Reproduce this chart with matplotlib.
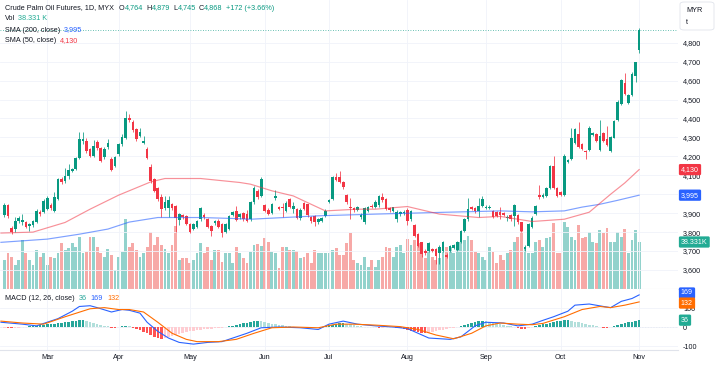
import numpy as np
import matplotlib
matplotlib.use('Agg')
import matplotlib.pyplot as plt
import matplotlib.transforms as mtransforms
from matplotlib.patches import FancyBboxPatch

plt.rcParams['font.family'] = ['Liberation Sans', 'DejaVu Sans']

# --------------------------------- #
# values, one entry per daily bar (mid Feb .. 1 Nov)

opens = [3890, 3942, 3821, 3814, 3858, 3855, 3854, 3830, 3835, 3854,
         3905, 3907, 3921, 3942, 3911, 3974, 4079, 4070, 4095, 4125,
         4133, 4190, 4280, 4280, 4237, 4200, 4275, 4242, 4195, 4250,
         4185, 4150, 4210, 4263, 4298, 4405, 4381, 4342, 4307, 4272,
         4240, 4146, 4079, 4032, 3984, 3926, 3926, 3947, 3938, 3865,
         3890, 3886, 3842, 3816, 3825, 3868, 3890, 3868, 3833, 3850,
         3860, 3842, 3800, 3816, 3890, 3912, 3880, 3900, 3895, 3868,
         3958, 4018, 3991, 3942, 3917, 3900, 3980, 3935, 3932, 3912,
         3974, 3920, 3921, 3872, 3956, 3947, 3880, 3886, 3855, 3860,
         3886, 3960, 3977, 4093, 4090, 4063, 3995, 3935, 3925, 3915,
         3880, 3854, 3910, 3940, 3935, 3942, 3985, 3974, 3925, 3910,
         3868, 3895, 3900, 3917, 3868, 3837, 3789, 3746, 3700, 3702,
         3710, 3711, 3690, 3702, 3680, 3700, 3715, 3705, 3746, 3807,
         3868, 3930, 3925, 3910, 3940, 3925, 3925, 3910, 3905, 3907,
         3900, 3875, 3890, 3886, 3890, 3851, 3712, 3728, 3825, 3895,
         3995, 3985, 3991, 4035, 4149, 4035, 4010, 3995, 4170, 4184,
         4272, 4316, 4263, 4228, 4233, 4315, 4320, 4233, 4325, 4290,
         4230, 4298, 4391, 4474, 4588, 4483, 4526, 4623, 4764]
highs = [3955, 3950, 3830, 3880, 3885, 3895, 3860, 3850, 3865, 3920,
         3915, 3975, 3990, 3955, 4010, 4085, 4090, 4140, 4160, 4140,
         4195, 4330, 4330, 4295, 4245, 4285, 4285, 4250, 4250, 4290,
         4195, 4200, 4270, 4320, 4438, 4421, 4390, 4350, 4350, 4310,
         4250, 4160, 4085, 4040, 4000, 3990, 3990, 3955, 3945, 3900,
         3895, 3890, 3850, 3850, 3865, 3935, 3900, 3875, 3840, 3865,
         3870, 3850, 3850, 3890, 3910, 3940, 3900, 3905, 3915, 3965,
         4045, 4025, 4090, 3950, 3925, 3955, 4020, 3940, 3955, 3962,
         3980, 3960, 3925, 3925, 3960, 3950, 3885, 3890, 3875, 3880,
         3920, 3975, 4095, 4110, 4125, 4068, 4000, 3980, 3930, 3940,
         3900, 3930, 3940, 3950, 3970, 3995, 4009, 3980, 3930, 3935,
         3915, 3910, 3915, 3925, 3918, 3845, 3795, 3750, 3710, 3750,
         3715, 3715, 3730, 3755, 3690, 3730, 3735, 3755, 3812, 3875,
         3980, 3940, 3930, 3980, 3990, 3945, 3945, 3915, 3910, 3935,
         3905, 3890, 3895, 3950, 3895, 3855, 3730, 3850, 3885, 3945,
         4050, 4005, 4040, 4155, 4200, 4040, 4015, 4210, 4185, 4352,
         4350, 4380, 4270, 4232, 4360, 4330, 4325, 4390, 4330, 4360,
         4305, 4390, 4500, 4610, 4640, 4530, 4645, 4700, 4879]
lows = [3880, 3875, 3790, 3800, 3850, 3835, 3820, 3808, 3825, 3850,
        3885, 3900, 3915, 3918, 3905, 3970, 4055, 4060, 4080, 4118,
        4128, 4185, 4265, 4220, 4195, 4195, 4235, 4170, 4185, 4240,
        4125, 4145, 4200, 4255, 4290, 4380, 4330, 4280, 4300, 4265,
        4185, 4060, 4010, 3965, 3879, 3915, 3880, 3915, 3800, 3840,
        3870, 3835, 3795, 3810, 3820, 3860, 3870, 3820, 3780, 3840,
        3820, 3775, 3795, 3810, 3885, 3860, 3870, 3860, 3855, 3860,
        3950, 3975, 3985, 3905, 3890, 3895, 3970, 3915, 3880, 3905,
        3925, 3900, 3870, 3865, 3915, 3880, 3850, 3830, 3845, 3855,
        3880, 3955, 3970, 4070, 4060, 4030, 3950, 3870, 3905, 3910,
        3870, 3845, 3905, 3925, 3925, 3935, 3960, 3915, 3905, 3905,
        3855, 3885, 3890, 3835, 3860, 3775, 3720, 3670, 3680, 3695,
        3695, 3630, 3630, 3695, 3665, 3695, 3710, 3700, 3740, 3800,
        3860, 3915, 3900, 3880, 3935, 3920, 3920, 3875, 3880, 3870,
        3885, 3860, 3860, 3830, 3845, 3800, 3700, 3720, 3820, 3890,
        3975, 3980, 3985, 4030, 4030, 3985, 3990, 3990, 4165, 4180,
        4265, 4245, 4235, 4185, 4228, 4310, 4275, 4228, 4275, 4255,
        4225, 4295, 4385, 4470, 4525, 4475, 4520, 4590, 4745]
closes = [3942, 3884, 3800, 3856, 3874, 3862, 3828, 3842, 3856, 3912,
          3895, 3965, 3979, 3926, 3984, 4079, 4063, 4096, 4128, 4132,
          4190, 4290, 4290, 4228, 4200, 4254, 4242, 4175, 4240, 4268,
          4130, 4195, 4263, 4300, 4404, 4390, 4338, 4290, 4328, 4280,
          4193, 4070, 4017, 3974, 3921, 3958, 3968, 3926, 3877, 3895,
          3880, 3842, 3800, 3842, 3860, 3925, 3880, 3825, 3807, 3860,
          3825, 3795, 3842, 3886, 3905, 3865, 3895, 3868, 3860, 3958,
          4032, 3984, 4079, 3912, 3895, 3947, 3990, 3920, 3928, 3956,
          3930, 3940, 3877, 3917, 3921, 3890, 3860, 3851, 3870, 3875,
          3912, 3968, 4090, 4075, 4065, 4037, 3958, 3928, 3915, 3930,
          3890, 3925, 3930, 3930, 3960, 3990, 3970, 3921, 3915, 3930,
          3907, 3905, 3908, 3860, 3912, 3780, 3728, 3684, 3690, 3742,
          3700, 3675, 3720, 3746, 3670, 3725, 3730, 3750, 3807, 3868,
          3921, 3920, 3910, 3940, 3974, 3935, 3935, 3880, 3885, 3890,
          3890, 3880, 3870, 3942, 3851, 3807, 3722, 3842, 3877, 3938,
          3985, 3995, 4035, 4149, 4035, 3991, 3995, 4202, 4180, 4298,
          4342, 4251, 4240, 4222, 4351, 4325, 4282, 4307, 4282, 4260,
          4300, 4386, 4486, 4602, 4531, 4526, 4637, 4696, 4868]
volumeK = [23.7, 29.1, 26.4, 19.6, 23.7, 39.8, 29.1, 23.7, 19.6, 31.8,
           26.4, 29.1, 19.6, 26.4, 25.0, 29.1, 37.2, 31.8, 33.2, 37.2,
           34.6, 42.4, 29.1, 30.5, 42.4, 42.4, 34.6, 29.1, 26.4, 32.4,
           27.6, 15.5, 26.4, 30.5, 57.3, 34.6, 37.2, 31.8, 26.4, 29.1,
           34.6, 46.8, 35.9, 42.4, 35.9, 32.4, 29.6, 35.9, 51.6, 23.7,
           25.0, 25.0, 21.0, 23.7, 29.1, 37.2, 29.1, 34.6, 23.7, 31.8,
           31.8, 22.3, 29.1, 29.1, 21.0, 34.6, 29.1, 25.0, 21.0, 30.5,
           35.9, 36.8, 35.1, 41.3, 38.6, 30.5, 29.1, 17.1, 34.6, 34.6,
           31.8, 31.8, 31.3, 25.0, 26.4, 29.1, 21.0, 31.8, 29.6, 29.6,
           29.6, 29.1, 31.8, 33.2, 27.7, 27.7, 37.3, 45.4, 23.7, 21.5,
           19.6, 26.4, 18.3, 23.7, 18.3, 23.7, 26.4, 34.6, 33.2, 26.4,
           34.6, 35.9, 29.1, 41.1, 35.9, 39.8, 37.2, 29.1, 25.0, 32.0,
           26.4, 23.7, 25.0, 30.5, 34.6, 34.6, 29.1, 33.2, 38.6, 39.8,
           43.2, 39.8, 30.5, 29.1, 26.4, 23.7, 34.6, 30.5, 21.0, 27.8,
           23.7, 29.1, 31.8, 38.6, 42.7, 49.5, 34.6, 29.1, 29.1, 38.6,
           40.0, 34.6, 41.3, 42.7, 53.6, 29.1, 29.1, 54.9, 50.9, 42.7,
           40.0, 52.2, 41.3, 42.7, 46.8, 38.6, 37.3, 48.1, 45.4, 49.5,
           38.6, 38.6, 46.8, 42.7, 48.7, 29.1, 40.0, 48.1, 38.331]
macdHist = [-3, -5, -6, -4, -3, -2, 2, 3, 4,
            6, 9, 12, 14, 16, 18, 20, 22, 24, 27, 30, 33, 36, 38,
            32, 26, 20, 14, 10, 6, 3,
            -3, -5, -2,
            3, 6, 4,
            -4, -10, -18, -26, -34, -42, -50, -58, -64,
            -60, -54, -48, -42, -36, -31, -27, -23, -20, -17, -14, -12, -10, -8, -6, -4, -3, -1,
            3, 7, 11, 15, 19, 23, 27, 31, 34,
            30, 26, 22, 18, 14, 11, 8, 5, 3,
            2, 1, -1, -2, -3, -2, -1, 1, 2, 4,
            8, 12, 16, 20, 22, 18, 14,
            9, 6, 3, 1, -1, -2, -2, -3, -3, -2, -1, -2, -4,
            -7, -11, -15, -19, -23, -27, -31, -34,
            -30, -26, -22, -18, -14, -10, -6, -3, -1,
            5, 10, 15, 20, 25, 30, 34,
            31, 27, 23, 19, 15, 11, 7, 4, 1,
            -4, -8, -12, -6,
            2, 6, 10, 14, 18, 22, 26, 29, 32, 35, 38,
            33, 28, 24, 20, 16, 12, 8, 4, 1, -3,
            -5, -2,
            4, 9, 14, 19, 24, 28, 32, 36]

# indicator lines, read at a handful of bars
sma200Bars = [-1, 12, 21, 29, 35, 43, 55, 64, 69, 88, 104, 122, 133, 139, 148, 157, 162, 167, 172, 178]
sma200Vals = [3746, 3763, 3789, 3816, 3853, 3877, 3877, 3872, 3868, 3886, 3895, 3904, 3909, 3912, 3907, 3912, 3932, 3947, 3968, 3995]
sma50Bars = [-1, 8, 17, 24, 32, 41, 45, 55, 66, 69, 75, 81, 86, 90, 99, 104, 113, 122, 133, 139, 148, 157, 164, 170, 174, 178]
sma50Vals = [3795, 3800, 3851, 3921, 3995, 4065, 4083, 4083, 4062, 4053, 4018, 3991, 3947, 3912, 3921, 3921, 3935, 3895, 3877, 3883, 3856, 3868, 3905, 4000, 4060, 4130]
macdBars = [-1, 5, 9, 11, 15, 19, 21, 24, 26, 30, 33, 35, 38, 40, 43, 46, 49, 53, 57, 61,
            65, 68, 72, 77, 83, 88, 91, 95, 99, 104, 109, 113, 116, 119, 125, 128, 132, 135, 140, 144,
            148, 151, 154, 158, 160, 164, 168, 170, 173, 176, 178]
macdVals = [25, 15, 6, 19, 44, 83, 108, 112, 102, 79, 92, 88, 73, 25, -23, -58, -81, -90, -81, -77,
            -52, -33, -4, 0, -4, -13, 15, 31, 15, 6, 0, -8, -33, -58, -65, -52, 6, 25, 21, 6,
            15, 35, 54, 83, 115, 121, 108, 102, 135, 150, 169]
signalBars = [-1, 5, 11, 17, 24, 28, 32, 35, 39, 43, 47, 51, 54, 60, 65, 70, 75, 81, 88, 93,
              98, 104, 111, 116, 121, 126, 131, 135, 139, 144, 148, 151, 157, 162, 167, 170, 174, 178]
signalVals = [31, 21, 15, 54, 96, 102, 92, 92, 79, 25, -33, -65, -77, -77, -65, -33, -4, 0, -4, 15,
              15, 10, 2, -13, -42, -62, -33, 6, 21, 15, 12, 19, 54, 92, 108, 102, 115, 132]

monthNames = ['Mar', 'Apr', 'May', 'Jun', 'Jul', 'Aug', 'Sep', 'Oct', 'Nov']
monthStartBar = [12, 32, 52, 73, 91, 113, 135, 156, 178]
priceTicks = [3600, 3700, 3800, 3900, 4000, 4100, 4200, 4300, 4400, 4500, 4600, 4700, 4800]
macdTicks = [-100, 0, 100]

# --------------------------------- #

DARK = '#131722'
UP, DOWN = '#089981', '#F23645'
VOL_UP, VOL_DOWN = '#92D2CC', '#F7A9A7'
BLUE, ORANGE = '#2962FF', '#FF6D00'
GRID = '#F0F3FA'
EDGE = '#E0E3EB'

W, H = 715, 366
fig = plt.figure(figsize=(W / 100, H / 100), dpi=100)
fig.patch.set_facecolor('white')


def fx(x):
    return x / W


def fy(y):
    return 1 - y / H


paneRight = 678
xlim = (-1.26, 188.9)

axVol = fig.add_axes([0, fy(289), paneRight / W, 289 / H])
axPrice = fig.add_axes([0, fy(289), paneRight / W, 289 / H])
axMacd = fig.add_axes([0, fy(350), paneRight / W, 61 / H])

o, h, l, c = (np.array(a, float) for a in (opens, highs, lows, closes))
idx = np.arange(len(c))
isUp = c >= o

# volume underneath
axVol.bar(idx, volumeK, width=0.8, color=np.where(isUp, VOL_UP, VOL_DOWN), linewidth=0)
axVol.set_xlim(*xlim)
axVol.set_ylim(0, 235.7)
axVol.axis('off')

# candles
axPrice.patch.set_visible(False)
candleCol = np.where(isUp, UP, DOWN)
axPrice.vlines(idx, l, h, colors=candleCol, linewidth=0.55, zorder=3)
axPrice.bar(idx, np.maximum(np.abs(c - o), 4), bottom=np.minimum(o, c), width=0.74,
            color=candleCol, linewidth=0, zorder=3)
axPrice.plot(sma200Bars, sma200Vals, color=BLUE, alpha=0.6, lw=0.85, zorder=4)
axPrice.plot(sma50Bars, sma50Vals, color=DOWN, alpha=0.55, lw=0.85, zorder=4)
axPrice.axhline(c[-1], color=UP, lw=0.6, ls=(0, (1, 2)), alpha=0.8, zorder=2)

axPrice.set_xlim(*xlim)
axPrice.set_ylim(3499.6, 5025.5)
axPrice.yaxis.tick_right()
# the 4,000 label sits under the SMA 200 tag on the original, so it is left blank
axPrice.set_yticks(priceTicks, ['' if t == 4000 else f'{t:,}' for t in priceTicks])
axPrice.set_xticks(monthStartBar)
axPrice.tick_params(axis='x', length=0, labelbottom=False)
axPrice.tick_params(axis='y', length=0, pad=3.6, labelsize=5.2, labelcolor=DARK)
axPrice.grid(True, color=GRID, lw=0.6, zorder=0)
for side in ['top', 'left', 'right']:
    axPrice.spines[side].set_visible(False)
axPrice.spines['bottom'].set_color(EDGE)
axPrice.spines['bottom'].set_linewidth(0.8)

# MACD pane
hist = np.array(macdHist, float)
prev = np.r_[hist[0], hist[:-1]]
histCol = np.where(hist >= 0,
                   np.where(hist >= prev, '#26A69A', '#B2DFDB'),
                   np.where(hist < prev, '#FF5252', '#FFCDD2'))
axMacd.bar(idx, hist, width=0.72, color=histCol, linewidth=0, zorder=2)
axMacd.axhline(0, color='#B2B5BE', lw=0.5, ls=(0, (2, 2)), zorder=1)
axMacd.plot(macdBars, macdVals, color=BLUE, lw=0.8, zorder=3)
axMacd.plot(signalBars, signalVals, color=ORANGE, lw=0.8, zorder=3)
axMacd.set_xlim(*xlim)
axMacd.set_ylim(-121, 200)
axMacd.yaxis.tick_right()
axMacd.set_yticks(macdTicks, [str(t) for t in macdTicks])
axMacd.set_xticks(monthStartBar, monthNames)
axMacd.tick_params(axis='x', length=0, pad=2.6, labelsize=5.2, labelcolor=DARK)
axMacd.tick_params(axis='y', length=0, pad=3.6, labelsize=5.2, labelcolor=DARK)
axMacd.grid(True, color=GRID, lw=0.6, zorder=0)
for side in ['top', 'left', 'right']:
    axMacd.spines[side].set_visible(False)
axMacd.spines['bottom'].set_color(EDGE)
axMacd.spines['bottom'].set_linewidth(0.8)


# price scale tags
def tag(axis, trans, yval, text, color):
    axis.text(681 / paneRight, yval, text, transform=trans, color='white', fontsize=5.1,
              ha='left', va='center', clip_on=False, zorder=20,
              bbox=dict(boxstyle='round,pad=0.3,rounding_size=0.2', fc=color, ec='none'))


priceTrans = mtransforms.blended_transform_factory(axPrice.transAxes, axPrice.transData)
volTrans = mtransforms.blended_transform_factory(axPrice.transAxes, axVol.transData)
macdTrans = mtransforms.blended_transform_factory(axMacd.transAxes, axMacd.transData)
tag(axPrice, priceTrans, sma50Vals[-1], f'{sma50Vals[-1]:,}', DOWN)
tag(axPrice, priceTrans, sma200Vals[-1], f'{sma200Vals[-1]:,}', BLUE)
tag(axPrice, volTrans, volumeK[-1], f'{volumeK[-1]:.3f}K', '#22AB94')
tag(axMacd, macdTrans, 179, str(macdVals[-1]), BLUE)
tag(axMacd, macdTrans, 126, str(signalVals[-1]), ORANGE)
tag(axMacd, macdTrans, hist[-1], str(int(hist[-1])), '#22AB94')

# currency / unit box top right
fig.patches.append(FancyBboxPatch((fx(680), fy(30)), 34 / W, 28 / H,
                                  boxstyle='round,pad=0,rounding_size=0.006',
                                  transform=fig.transFigure, fc='white', ec=EDGE, lw=0.6))
fig.text(fx(686), fy(10), 'MYR', fontsize=5.2, color=DARK, va='center')
fig.text(fx(686), fy(23), 't', fontsize=5.2, color=DARK, va='center')


# legend rows, pieces written one after another
def write(x, y, parts, size=5.2):
    r = fig.canvas.get_renderer()
    for s, col, gap in parts:
        t = fig.text(fx(x), fy(y), s, color=col, fontsize=size, ha='left', va='center')
        x = t.get_window_extent(r).x1 + gap


chg = c[-1] - c[-2]
write(5, 8, [('Crude Palm Oil Futures, 1D, MYX', DARK, 5),
             ('O', DARK, 0.3), (f'{opens[-1]:,}', UP, 3),
             ('H', DARK, 0.3), (f'{highs[-1]:,}', UP, 3),
             ('L', DARK, 0.3), (f'{lows[-1]:,}', UP, 3),
             ('C', DARK, 0.3), (f'{closes[-1]:,}', UP, 3),
             (f'+{chg:.0f} (+{chg / c[-2] * 100:.2f}%)', UP, 0)])
write(5, 19, [('Vol', DARK, 3), (f'{volumeK[-1]:.3f} K', '#22AB94', 0)])
write(5, 30, [('SMA (200, close)', DARK, 4), (f'{sma200Vals[-1]:,}', BLUE, 0)])
write(5, 40.5, [('SMA (50, close)', DARK, 4), (f'{sma50Vals[-1]:,}', DOWN, 0)])
write(5, 298, [('MACD (12, 26, close)', DARK, 4), (str(int(hist[-1])), '#26A69A', 4),
               (str(macdVals[-1]), BLUE, 4), (str(signalVals[-1]), ORANGE, 0)])

fig.savefig('out.png', dpi=100, facecolor='white')
